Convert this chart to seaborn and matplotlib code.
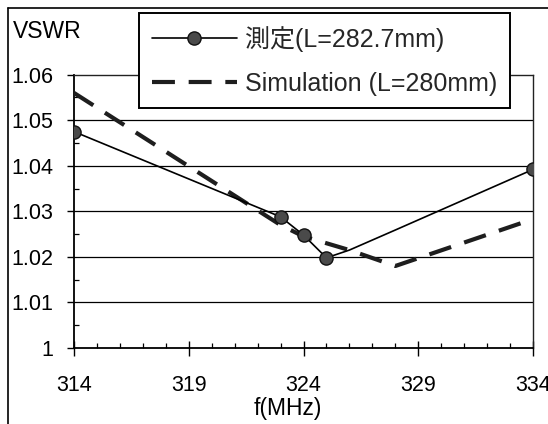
import numpy as np
import pandas as pd
import matplotlib
matplotlib.use("Agg")
import matplotlib.pyplot as plt
from matplotlib.lines import Line2D
from matplotlib.ticker import MultipleLocator, FixedLocator
import seaborn as sns

# ---- data ----
freq_meas = [314, 323, 324, 325, 326, 328, 334]
vswr_meas = [1.0475, 1.0288, 1.0248, 1.0198, 1.0215, 1.0259, 1.0392]
meas_marker_idx = [0, 1, 2, 3, 6]

freq_sim = [314, 323, 324, 325, 326, 328, 334]
vswr_sim = [1.056, 1.027, 1.0245, 1.023, 1.0215, 1.018, 1.0283]

label_meas = "測定(L=282.7mm)"
label_sim = "Simulation (L=280mm)"
x_ticks = [314, 319, 324, 329, 334]
y_ticks = [1.00, 1.01, 1.02, 1.03, 1.04, 1.05, 1.06]
y_ticklabels = ["1", "1.01", "1.02", "1.03", "1.04", "1.05", "1.06"]

sns.set_theme(style="white")
plt.rcParams["font.family"] = ["Liberation Sans", "Noto Sans CJK JP", "DejaVu Sans"]

W, H = 548, 424
fig = plt.figure(figsize=(W / 100, H / 100), dpi=100, facecolor="white")
ax = fig.add_axes([74 / W, 1 - 348 / H, (533 - 74) / W, (348 - 74.7) / H])
ax.set_facecolor("white")

df_meas = pd.DataFrame({"f": freq_meas, "v": vswr_meas})
df_sim = pd.DataFrame({"f": freq_sim, "v": vswr_sim})

sns.lineplot(data=df_sim, x="f", y="v", ax=ax, sort=False, color="#1e1e1e",
             linewidth=3.0, dashes=False, label=label_sim, zorder=3)
ax.lines[-1].set_dashes([5.5, 3.3])
sns.lineplot(data=df_meas, x="f", y="v", ax=ax, sort=False, color="black",
             linewidth=1.2, marker="o", markevery=meas_marker_idx,
             markersize=9.5, markerfacecolor="#4a4a4a", markeredgecolor="#111111",
             markeredgewidth=1.0, label=label_meas, zorder=4)

ax.set_xlim(314, 334)
ax.set_ylim(1.0, 1.06)
ax.xaxis.set_major_locator(FixedLocator(x_ticks))
ax.xaxis.set_minor_locator(MultipleLocator(1))
ax.yaxis.set_major_locator(FixedLocator(y_ticks))
ax.yaxis.set_minor_locator(MultipleLocator(0.005))
ax.set_yticklabels(y_ticklabels)
ax.set_xticklabels([str(t) for t in x_ticks])

ax.tick_params(axis="x", which="major", direction="inout", length=10.8, width=1.0,
               pad=14, labelsize=15.5, colors="black", bottom=True)
ax.tick_params(axis="x", which="minor", direction="in", length=3.6, width=0.9,
               colors="black", bottom=True)
ax.tick_params(axis="y", which="major", direction="out", length=5, width=1.0,
               pad=10, labelsize=15.5, colors="black", left=True)
ax.tick_params(axis="y", which="minor", direction="in", length=3.6, width=0.9,
               colors="black", left=True)

ax.yaxis.grid(True, which="major", color="black", linewidth=0.9, linestyle="-")
ax.xaxis.grid(False)
fig.canvas.draw()
yt = ax.yaxis.get_major_ticks()
yt[0].gridline.set_visible(False)
yt[-1].gridline.set_visible(False)

for s in ["left", "bottom"]:
    ax.spines[s].set_color("black")
    ax.spines[s].set_linewidth(1.3)
for s in ["top", "right"]:
    ax.spines[s].set_color("#222222")
    ax.spines[s].set_linewidth(1.0)
    ax.spines[s].set_linestyle((0, (1, 1)))

ax.set_xlabel("f(MHz)", fontsize=16.5, color="black")
ax.xaxis.set_label_coords((288 - 74) / (533 - 74), -(408 - 348) / (348 - 74.7))
ax.xaxis.label.set_va("center")
ax.set_ylabel("")

fig.text(13 / W, 1 - 32 / H, "VSWR", fontsize=16.5, color="black", ha="left", va="center")

# legend in measured-then-simulation order
handles, labels = ax.get_legend_handles_labels()
order = [labels.index(label_meas), labels.index(label_sim)]
leg = ax.legend([handles[i] for i in order], [labels[i] for i in order],
                loc="upper left", bbox_to_anchor=(139 / W, 1 - 13.3 / H),
                bbox_transform=fig.transFigure, borderaxespad=0,
                fontsize=18, frameon=True, fancybox=False, framealpha=1,
                edgecolor="black", handlelength=3.4, handletextpad=0.34,
                labelspacing=0.8, borderpad=0.5, numpoints=1)
leg.get_frame().set_linewidth(1.4)
leg.set_zorder(10)
for lh in leg.get_lines():
    if lh.get_marker() == "o":
        xd = lh.get_xdata()
        if len(xd) >= 3:
            lh.set_markevery([len(xd) // 2])
        else:
            lh.set_markevery(None)

# outer chart-area border (top and left edges visible in the crop)
fig.add_artist(Line2D([8 / W, 1.0], [1 - 7.5 / H, 1 - 7.5 / H], color="black",
                      linewidth=1.2, transform=fig.transFigure))
fig.add_artist(Line2D([8 / W, 8 / W], [0.0, 1 - 7.5 / H], color="black",
                      linewidth=1.2, transform=fig.transFigure))

fig.savefig("out.png", dpi=100, facecolor="white")
